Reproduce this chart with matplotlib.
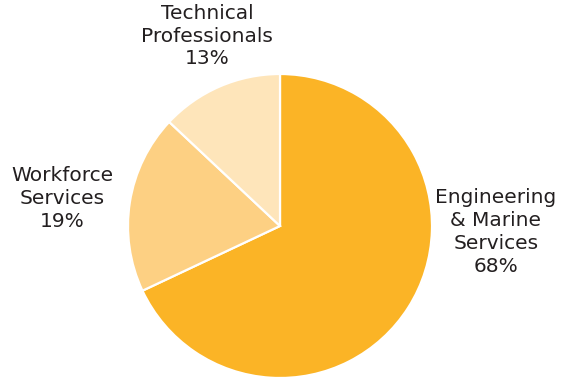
import matplotlib
matplotlib.use("Agg")
import matplotlib.pyplot as plt

# segment shares of revenue
segments = ["Engineering\n& Marine\nServices", "Workforce\nServices", "Technical\nProfessionals"]
shares = [68, 19, 13]
colors = ["#FBB426", "#FDD083", "#FEE5BA"]
# where each label sits, in pie-radius units from the centre
label_xy = [(1.42, -0.04), (-1.43, 0.18), (-0.48, 1.25)]

plt.rcParams['font.family'] = ['DejaVu Sans']

fig = plt.figure(figsize=(5.65, 3.78), dpi=100)
r = 152
cx, cy = 280, 226
ax = fig.add_axes([(cx - r) / 565, (378 - cy - r) / 378, 2 * r / 565, 2 * r / 378])

ax.pie(shares, colors=colors, startangle=90, counterclock=False,
       wedgeprops=dict(edgecolor="white", linewidth=1.6))
ax.set_xlim(-1, 1)
ax.set_ylim(-1, 1)
ax.set_aspect("equal")

for name, val, (x, y) in zip(segments, shares, label_xy):
    ax.text(x, y, f"{name}\n{val}%", ha="center", va="center",
            fontsize=14.5, color="#231F20", linespacing=1.25)

fig.savefig("out.png", dpi=100)
